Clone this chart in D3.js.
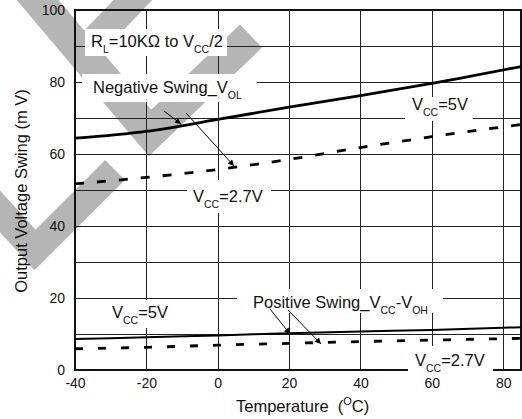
<!DOCTYPE html>
<html>
<head>
<meta charset="utf-8">
<script src="https://cdn.jsdelivr.net/npm/d3@7"></script>
<style>
  body { margin: 0; background: #fff; }
  svg { display: block; font-family: "Liberation Sans", Arial, sans-serif; }
</style>
</head>
<body>
<svg id="chart" width="522" height="419"></svg>
<script>
// values
var temps     = [-40, -20, 0, 20, 40, 60, 85];
var negVcc5   = [64.4, 66.3, 69.6, 73.0, 76.2, 79.6, 84.3];
var negVcc27  = [51.7, 53.5, 55.7, 58.5, 61.8, 64.8, 68.2];
var posVcc5   = [8.6, 9.1, 9.6, 10.2, 10.7, 11.1, 11.9];
var posVcc27  = [5.9, 6.3, 6.9, 7.4, 7.9, 8.3, 8.8];

var xTicks = [-40, -20, 0, 20, 40, 60, 80];
var yTicks = [0, 20, 40, 60, 80, 100];
var yGrid  = [10, 20, 30, 40, 50, 60, 70, 80, 90];

// plot box (window.top is reserved, so prefixed names)
var pL = 75, pR = 521, pT = 10, pB = 370;

var x = d3.scaleLinear().domain([-40, 85]).range([pL, pR]);
var y = d3.scaleLinear().domain([0, 100]).range([pB, pT]);

var svg = d3.select("#chart");

// grey watermark chevrons
var wm = svg.append("g")
    .attr("fill", "none")
    .attr("stroke", "#b5b5b5")
    .attr("stroke-linejoin", "miter")
    .attr("stroke-linecap", "butt");
[
  {w: 32, pts: [[19, -22], [150, 133], [251, 36]]},
  {w: 28, pts: [[152, -20], [88, 47]]},
  {w: 28, pts: [[-22, 187], [35, 250], [115, 170]]}
].forEach(function(c) {
  wm.append("path").attr("stroke-width", c.w).attr("d", d3.line()(c.pts));
});

// grid
var grid = svg.append("g").attr("stroke", "#222").attr("stroke-width", 1);
grid.selectAll("line.h").data(yGrid).join("line").attr("class", "h")
    .attr("x1", pL).attr("x2", pR)
    .attr("y1", d => Math.round(y(d)) + 0.5).attr("y2", d => Math.round(y(d)) + 0.5);
grid.selectAll("line.v").data(xTicks.slice(1)).join("line").attr("class", "v")
    .attr("y1", pT).attr("y2", pB)
    .attr("x1", d => Math.round(x(d)) + 0.5).attr("x2", d => Math.round(x(d)) + 0.5);

// frame
svg.append("rect")
    .attr("x", pL).attr("y", pT)
    .attr("width", pR - pL).attr("height", pB - pT)
    .attr("fill", "none").attr("stroke", "#111").attr("stroke-width", 2);

// axes labels
var yAxis = svg.append("g")
    .attr("transform", `translate(${pL},0)`)
    .call(d3.axisLeft(y).tickValues(yTicks).tickSize(0).tickPadding(10)
        .tickFormat(d => String(d)));
var xAxis = svg.append("g")
    .attr("transform", `translate(0,${pB})`)
    .call(d3.axisBottom(x).tickValues(xTicks).tickSize(0).tickPadding(8)
        .tickFormat(d => String(d)));
[xAxis, yAxis].forEach(function(a) {
  a.select(".domain").remove();
  a.selectAll("text").attr("font-size", 14).attr("fill", "#111")
      .attr("font-family", "Liberation Sans, Arial, sans-serif");
});

svg.append("text")
    .attr("transform", "translate(27,191) rotate(-90)")
    .attr("text-anchor", "middle")
    .attr("font-size", 16.5).attr("fill", "#111")
    .text("Output Voltage Swing (m V)");

var xt = svg.append("text")
    .attr("x", 236).attr("y", 412)
    .attr("font-size", 16.5).attr("fill", "#111");
xt.append("tspan").text("Temperature\u00a0\u00a0(");
xt.append("tspan").attr("font-size", 11).attr("dy", -7).text("O");
xt.append("tspan").attr("dy", 7).text("C)");

// label boxes
var boxes = [
  [85, 29, 142, 27],
  [82, 74, 175, 28],
  [405, 97, 68, 24],
  [187, 180, 84, 33],
  [104, 300, 66, 28],
  [237, 289, 206, 24],
  [408, 346, 85, 27]
];
svg.append("g").selectAll("rect").data(boxes).join("rect")
    .attr("x", d => d[0]).attr("y", d => d[1])
    .attr("width", d => d[2]).attr("height", d => d[3])
    .attr("fill", "#fff");

function label(px, py, parts) {
  var t = svg.append("text").attr("x", px).attr("y", py)
      .attr("font-size", 16.5).attr("fill", "#111");
  var shift = 0;
  parts.forEach(function(p) {
    var s = t.append("tspan").text(p[0]);
    if (p[1] === "sub") {
      s.attr("font-size", 10.5).attr("dy", 6 - shift);
      shift = 6;
    } else if (shift) {
      s.attr("dy", -shift);
      shift = 0;
    }
  });
}

label(91, 47, [["R"], ["L", "sub"], ["=10K\u03a9 to V"], ["CC", "sub"], ["/2"]]);
label(93, 93, [["Negative Swing_V"], ["OL", "sub"]]);
label(412, 110, [["V"], ["CC", "sub"], ["=5V"]]);
label(193, 202, [["V"], ["CC", "sub"], ["=2.7V"]]);
label(112, 318, [["V"], ["CC", "sub"], ["=5V"]]);
label(253, 308, [["Positive Swing_V"], ["CC", "sub"], ["-V"], ["OH", "sub"]]);
label(415, 366, [["V"], ["CC", "sub"], ["=2.7V"]]);

// curves
var line = d3.line()
    .x((d, i) => x(temps[i]))
    .y(d => y(d))
    .curve(d3.curveMonotoneX);

var series = [
  {v: negVcc5,  w: 2.8, dash: null},
  {v: negVcc27, w: 2.8, dash: "9,13"},
  {v: posVcc5,  w: 2,   dash: null},
  {v: posVcc27, w: 2.8, dash: "8,15"}
];
svg.append("g").selectAll("path").data(series).join("path")
    .attr("d", d => line(d.v))
    .attr("fill", "none")
    .attr("stroke", "#000")
    .attr("stroke-width", d => d.w)
    .attr("stroke-dasharray", d => d.dash);

// arrows
svg.append("defs").append("marker")
    .attr("id", "arr")
    .attr("viewBox", "0 0 10 10")
    .attr("refX", 10).attr("refY", 5)
    .attr("markerWidth", 8).attr("markerHeight", 6)
    .attr("markerUnits", "userSpaceOnUse")
    .attr("orient", "auto")
  .append("path").attr("d", "M0,0L10,5L0,10Z").attr("fill", "#000");

var arrows = [
  [[164, 111], [181, 124]],
  [[186, 113], [234, 166]],
  [[270, 309], [290, 334]],
  [[288, 310], [321, 344]]
];
svg.append("g").selectAll("line").data(arrows).join("line")
    .attr("x1", d => d[0][0]).attr("y1", d => d[0][1])
    .attr("x2", d => d[1][0]).attr("y2", d => d[1][1])
    .attr("stroke", "#000").attr("stroke-width", 1)
    .attr("marker-end", "url(#arr)");
</script>
</body>
</html>
